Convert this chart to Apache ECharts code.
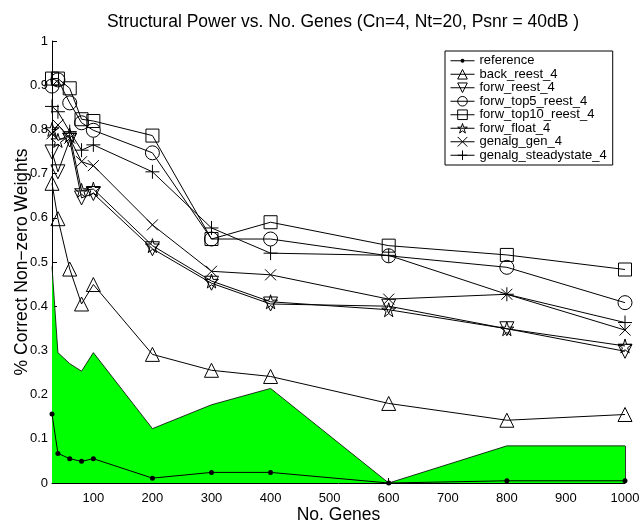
<!DOCTYPE html>
<html><head><meta charset="utf-8">
<script src="https://cdn.jsdelivr.net/npm/echarts@6/dist/echarts.min.js"></script>
<style>html,body{margin:0;padding:0;background:#fff}#c{width:640px;height:525px}</style>
</head><body><div id="c"></div>
<script>
var genes = [30, 40, 60, 80, 100, 200, 300, 400, 600, 800, 1000];
var xTicks = [100, 200, 300, 400, 500, 600, 700, 800, 900, 1000];
var reference = [0.156, 0.067, 0.055, 0.049, 0.055, 0.011, 0.024, 0.024, 0.0, 0.005, 0.005];
var referenceBand = [0.49, 0.295, 0.27, 0.253, 0.295, 0.123, 0.177, 0.214, 0.0, 0.084, 0.084];
var back_reest_4 = [0.678, 0.598, 0.484, 0.405, 0.449, 0.291, 0.255, 0.241, 0.18, 0.142, 0.155];
var forw_reest_4 = [0.749, 0.704, 0.776, 0.645, 0.655, 0.53, 0.452, 0.405, 0.4, 0.349, 0.298];
var forw_top5_reest_4 = [0.898, 0.912, 0.86, 0.815, 0.798, 0.747, 0.552, 0.552, 0.514, 0.488, 0.408];
var forw_top10_reest_4 = [0.915, 0.915, 0.893, 0.823, 0.819, 0.786, 0.552, 0.59, 0.537, 0.516, 0.483];
var forw_float_4 = [0.8, 0.775, 0.787, 0.662, 0.665, 0.537, 0.457, 0.41, 0.392, 0.349, 0.31];
var genalg_gen_4 = [0.79, 0.81, 0.78, 0.727, 0.718, 0.584, 0.479, 0.471, 0.416, 0.427, 0.346];
var genalg_steadystate_4 = [0.852, 0.84, 0.795, 0.753, 0.765, 0.704, 0.577, 0.52, 0.515, 0.427, 0.363];

function pairs(ys){ return genes.map(function(x,i){ return [x, ys[i]]; }); }
var FONT = 'Liberation Sans, Arial, sans-serif';
var openStyle = {color:'rgba(0,0,0,0)', borderColor:'#000', borderWidth:1};
function mk(name, ys, symbol, size, rot){
  return {name:name, type:'line', data:pairs(ys), symbol:symbol, symbolSize:size,
    symbolRotate: rot||0, showAllSymbol:true,
    lineStyle:{color:'#000', width:1}, itemStyle:openStyle, z:3, animation:false};
}
var STAR = 'path://M50,0 L61,35 L98,35 L68,57 L79,91 L50,70 L21,91 L32,57 L2,35 L39,35 Z';
var CROSS = 'path://M0,0 L10,10 M10,0 L0,10';
var PLUS = 'path://M5,0 L5,10 M0,5 L10,5';
var DOTLINE = 'path://M0,5.5 L24,5.5 L24,6.5 L0,6.5 Z M14,6 A2,2 0 1 1 10,6 A2,2 0 1 1 14,6 Z';
var last = genes.length - 1;
var names = ['back_reest_4','forw_reest_4','forw_top5_reest_4','forw_top10_reest_4','forw_float_4','genalg_gen_4','genalg_steadystate_4'];
var legendData = [{name:'reference', icon:DOTLINE, itemStyle:{color:'#000', borderWidth:0}}].concat(
  names.map(function(n){ return {name:n, itemStyle:{color:'rgba(0,0,0,0)', borderColor:'#000', borderWidth:1}}; }));

var chart = echarts.init(document.getElementById('c'), null, {renderer:'canvas'});
chart.setOption({
  animation:false,
  backgroundColor:'#fff',
  title:{text:'Structural Power vs. No. Genes (Cn=4, Nt=20, Psnr = 40dB )', left:338, top:8, textAlign:'center',
    textStyle:{fontFamily:FONT, fontSize:17.5, fontWeight:'normal', color:'#000'}},
  grid:{left:52, right:15, top:41, bottom:42, containLabel:false, outerBoundsMode:'none'},
  legend:{orient:'vertical', left:445, top:51, itemGap:0, itemWidth:24, itemHeight:12,
    backgroundColor:'#fff', borderColor:'#000', borderWidth:1, padding:[3,6,3,5],
    lineStyle:{width:1, color:'#000'},
    textStyle:{fontFamily:FONT, fontSize:13, color:'#000', lineHeight:13.5},
    data:legendData},
  xAxis:{type:'value', min:30, max:1000,
    name:'No. Genes', nameLocation:'middle', nameGap:23, nameMoveOverlap:false,
    nameTextStyle:{fontFamily:FONT, fontSize:17.5, color:'#000'},
    axisLine:{onZero:false, lineStyle:{color:'#000', width:1}},
    axisTick:{inside:true, length:5, customValues:xTicks, lineStyle:{color:'#000'}},
    axisLabel:{customValues:xTicks, fontFamily:FONT, fontSize:13, color:'#000', margin:9,
      formatter:function(v){ return String(v); }},
    splitLine:{show:false}},
  yAxis:{type:'value', min:0, max:1, interval:0.1,
    name:'% Correct Non\u2212zero Weights', nameLocation:'middle', nameGap:21, nameMoveOverlap:false,
    nameTextStyle:{fontFamily:FONT, fontSize:17.5, color:'#000'},
    axisLine:{show:true, lineStyle:{color:'#000', width:1}},
    axisTick:{show:true, inside:true, length:5, lineStyle:{color:'#000'}},
    axisLabel:{fontFamily:FONT, fontSize:13, color:'#000', margin:4,
      formatter:function(v){ return String(Math.round(v*10)/10); }},
    splitLine:{show:false}},
  series:[
    {name:'band', type:'line', data:pairs(referenceBand), symbol:'none', z:1,
      lineStyle:{color:'#000', width:0.8}, areaStyle:{color:'#00ff00', opacity:1},
      markLine:{symbol:'none', silent:true, label:{show:false}, lineStyle:{color:'#000', width:0.8, type:'solid'},
        data:[[{coord:[genes[last], 0]}, {coord:[genes[last], referenceBand[last]]}]]}},
    {name:'reference', type:'line', data:pairs(reference), symbol:'circle', symbolSize:5, z:4,
      lineStyle:{color:'#000', width:1}, itemStyle:{color:'#000'}},
    mk('back_reest_4', back_reest_4, 'triangle', 14),
    mk('forw_reest_4', forw_reest_4, 'triangle', 14, 180),
    mk('forw_top5_reest_4', forw_top5_reest_4, 'circle', 14),
    mk('forw_top10_reest_4', forw_top10_reest_4, 'rect', 13),
    mk('forw_float_4', forw_float_4, STAR, 14),
    mk('genalg_gen_4', genalg_gen_4, CROSS, 11),
    mk('genalg_steadystate_4', genalg_steadystate_4, PLUS, 14)
  ]
});
</script></body></html>
